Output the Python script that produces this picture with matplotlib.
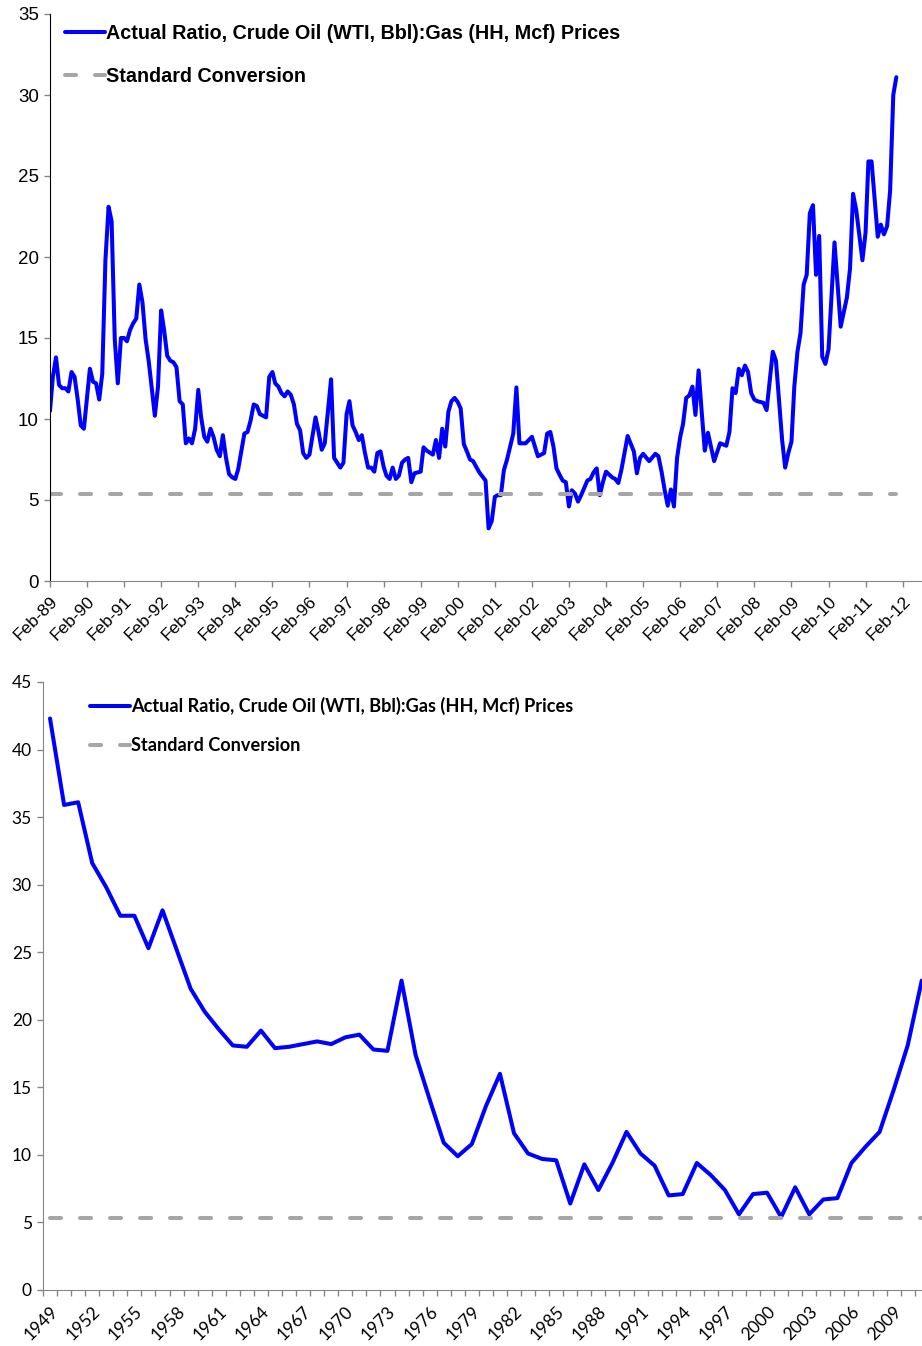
import matplotlib
matplotlib.use('Agg')
import matplotlib.pyplot as plt
import matplotlib.dates as mdates
import numpy as np
import pandas as pd

# ---- top chart: monthly ratio, months counted from Feb-1989 ----
top_months = [0, 1, 2, 3, 4, 5, 6, 7, 8, 9, 10, 11, 13, 14, 15, 16, 17, 18, 19, 20,
              21, 22, 23, 24, 25, 26, 27, 28, 29, 30, 31, 32, 34, 35, 36, 37, 38, 39, 40, 41,
              42, 43, 44, 45, 46, 47, 48, 49, 50, 51, 52, 53, 54, 55, 56, 57, 58, 59, 60, 61,
              63, 64, 65, 66, 67, 68, 69, 70, 71, 72, 73, 74, 75, 76, 77, 78, 79, 80, 81, 82,
              83, 84, 86, 87, 88, 89, 91, 92, 94, 95, 96, 97, 98, 99, 100, 101, 102, 103, 104, 105,
              106, 107, 108, 109, 110, 111, 112, 113, 114, 115, 116, 117, 118, 120, 121, 122, 124, 125, 126, 127,
              128, 129, 130, 131, 132, 133, 134, 135, 136, 137, 138, 139, 141, 142, 143, 144, 145, 146, 147, 148,
              150, 151, 152, 154, 156, 158, 159, 160, 161, 162, 163, 164, 165, 166, 167, 168, 169, 170, 171, 172,
              174, 175, 176, 177, 178, 179, 180, 182, 183, 184, 185, 187, 189, 190, 191, 192, 194, 196, 197, 198,
              199, 200, 201, 202, 203, 204, 205, 206, 207, 208, 209, 210, 211, 212, 213, 215, 217, 219, 220, 221,
              222, 223, 224, 225, 226, 227, 228, 229, 231, 232, 234, 235, 237, 238, 239, 240, 241, 242, 243, 244,
              245, 246, 247, 248, 249, 250, 251, 252, 254, 256, 258, 259, 260, 261, 263, 264, 265, 266, 268, 269,
              270, 271, 272, 273, 274]
top_ratio = [10.5, 12.6, 13.8, 12.1, 11.9, 11.9, 11.7, 12.9, 12.6, 11.2, 9.6, 9.4, 13.1, 12.3, 12.2, 11.2, 12.8, 19.8, 23.1, 22.2,
             14.9, 12.2, 15.0, 15.0, 14.8, 15.5, 15.9, 16.2, 18.3, 17.2, 14.9, 13.6, 10.2, 12.0, 16.7, 15.5, 13.9, 13.6, 13.5, 13.2,
             11.1, 10.9, 8.5, 8.8, 8.5, 9.4, 11.8, 10.1, 8.9, 8.6, 9.4, 8.9, 8.1, 7.7, 9.0, 7.6, 6.6, 6.4, 6.3, 6.9,
             9.1, 9.2, 9.9, 10.9, 10.8, 10.3, 10.2, 10.1, 12.6, 12.9, 12.2, 12.0, 11.6, 11.4, 11.7, 11.5, 10.9, 9.7, 9.3, 7.9,
             7.6, 7.8, 10.1, 9.2, 8.1, 8.5, 12.45, 7.6, 7.0, 7.3, 10.3, 11.1, 9.6, 9.2, 8.7, 9.0, 7.9, 7.0, 7.0, 6.75,
             7.9, 8.0, 7.05, 6.5, 6.3, 7.0, 6.3, 6.5, 7.3, 7.5, 7.6, 6.1, 6.65, 6.75, 8.25, 8.05, 7.8, 8.7, 7.6, 9.4,
             8.3, 10.45, 11.1, 11.3, 11.05, 10.65, 8.45, 8.0, 7.5, 7.4, 7.05, 6.7, 6.2, 3.25, 3.7, 5.2, 5.3, 5.3, 6.85, 7.5,
             9.1, 11.95, 8.5, 8.5, 8.9, 7.7, 7.8, 7.9, 9.1, 9.2, 8.3, 6.95, 6.55, 6.2, 6.1, 4.6, 5.6, 5.4, 4.9, 5.3,
             6.2, 6.3, 6.7, 6.95, 5.3, 6.1, 6.75, 6.4, 6.3, 6.05, 6.85, 8.95, 8.0, 6.65, 7.6, 7.85, 7.4, 7.85, 7.7, 6.75,
             5.6, 4.65, 5.65, 4.6, 7.6, 8.9, 9.7, 11.3, 11.45, 12.0, 10.25, 13.0, 10.4, 8.05, 9.15, 7.4, 8.5, 8.35, 9.2, 11.9,
             11.6, 13.1, 12.7, 13.3, 12.9, 11.6, 11.2, 11.1, 11.0, 10.55, 14.15, 13.6, 8.7, 7.0, 7.9, 8.6, 12.0, 14.15, 15.3, 18.3,
             18.9, 22.7, 23.2, 18.9, 21.3, 13.85, 13.4, 14.3, 20.9, 15.7, 17.5, 19.3, 23.9, 22.9, 19.8, 21.5, 25.9, 25.9, 21.25, 22.0,
             21.4, 21.9, 24.1, 30.0, 31.1]

# ---- bottom chart: annual ratio ----
years = list(range(1949, 2012))
annual_ratio = [42.3, 35.9, 36.1, 31.6, 29.8, 27.7, 27.7, 25.3, 28.1, 25.2,
                22.3, 20.6, 19.3, 18.1, 18.0, 19.2, 17.9, 18.0, 18.2, 18.4,
                18.2, 18.7, 18.9, 17.8, 17.7, 22.9, 17.4, 14.1, 10.9, 9.9,
                10.8, 13.6, 16.0, 11.6, 10.1, 9.7, 9.6, 6.4, 9.3, 7.4,
                9.4, 11.7, 10.1, 9.2, 7.0, 7.1, 9.4, 8.5, 7.4, 5.6,
                7.1, 7.2, 5.4, 7.6, 5.6, 6.7, 6.8, 9.4, 10.6, 11.7,
                14.8, 18.1, 22.9]

std_conversion = 5.36

label_actual = 'Actual Ratio, Crude Oil (WTI, Bbl):Gas (HH, Mcf) Prices'
label_std = 'Standard Conversion'

BLUE = '#0000FF'
DASH_GREY = '#A6A6A6'
AXIS_GREY = '#868686'

plt.rcParams['lines.scale_dashes'] = False
W, H = 922, 1346
fig = plt.figure(figsize=(W / 100, H / 100), dpi=100)

# ================= top chart =================
month_index = pd.date_range('1989-02-01', periods=275, freq='MS')
top_dates = month_index[top_months]

ax1 = fig.add_axes([50 / W, 1 - 581 / H, (W - 50) / W, (581 - 14) / H])
ax1.plot(top_dates, top_ratio, color=BLUE, lw=2.9, solid_joinstyle='round',
         solid_capstyle='round', label=label_actual)
ax1.plot(top_dates, np.full(len(top_dates), std_conversion), color=DASH_GREY, lw=2.9,
         dashes=(8, 13.6), dash_capstyle='round', label=label_std)

ax1.set_xlim(pd.Timestamp('1989-02-01'), pd.Timestamp('2012-08-10'))
ax1.set_ylim(0, 35)
ax1.set_yticks(np.arange(0, 36, 5))
ax1.xaxis.set_major_locator(mdates.MonthLocator(bymonth=2))
ax1.xaxis.set_major_formatter(mdates.DateFormatter('%b-%y'))

for s in ['top', 'right']:
    ax1.spines[s].set_visible(False)
ax1.spines['left'].set_color('black')
ax1.spines['bottom'].set_color(AXIS_GREY)
ax1.tick_params(axis='both', colors=AXIS_GREY, length=4, width=1, labelcolor='black')
ax1.tick_params(axis='y', pad=4)
ax1.tick_params(axis='x', pad=5)
for t in ax1.get_yticklabels():
    t.set_fontfamily('Liberation Sans')
    t.set_fontsize(13.5)
for t in ax1.get_xticklabels():
    t.set_fontfamily('Liberation Sans')
    t.set_fontsize(12.5)
    t.set_rotation(45)
    t.set_ha('right')
    t.set_va('top')
    t.set_rotation_mode('anchor')

ax1.legend(loc='upper left', bbox_to_anchor=(65 / W, 1 - 24 / H), bbox_transform=fig.transFigure,
           frameon=False, borderpad=0, borderaxespad=0, handlelength=2.03, handletextpad=0.05,
           labelspacing=1.2, prop={'family': 'Liberation Sans', 'weight': 'bold', 'size': 14.2})

# ================= bottom chart =================
ax2 = fig.add_axes([43 / W, 1 - 1290 / H, 63 * 14.06 / W, (1290 - 682) / H])
xs = np.arange(len(years))
ax2.plot(xs, annual_ratio, color=BLUE, lw=2.9, solid_joinstyle='round',
         solid_capstyle='round', label=label_actual)
ax2.plot(xs, np.full(len(years), std_conversion), color=DASH_GREY, lw=2.9,
         dashes=(8, 13.6), dash_capstyle='round', label=label_std)

ax2.set_xlim(-0.5, len(years) - 0.5)
ax2.set_ylim(0, 45)
ax2.set_yticks(np.arange(0, 46, 5))
ax2.set_xticks(xs[::3])
ax2.set_xticklabels([str(y) for y in years[::3]])
ax2.set_xticks(np.arange(-0.5, len(years), 1), minor=True)

for s in ['top', 'right']:
    ax2.spines[s].set_visible(False)
for s in ['left', 'bottom']:
    ax2.spines[s].set_color(AXIS_GREY)
ax2.tick_params(axis='y', colors=AXIS_GREY, length=4, width=1, labelcolor='black', pad=4)
ax2.tick_params(axis='x', which='major', length=0, pad=9.5, labelcolor='black')
ax2.tick_params(axis='x', which='minor', colors=AXIS_GREY, length=4, width=1)
for t in ax2.get_yticklabels():
    t.set_fontfamily('Lato')
    t.set_fontsize(12.5)
for t in ax2.get_xticklabels():
    t.set_fontfamily('Lato')
    t.set_fontsize(12.5)
    t.set_rotation(45)
    t.set_ha('right')
    t.set_va('top')
    t.set_rotation_mode('anchor')

ax2.legend(loc='upper left', bbox_to_anchor=(90 / W, 1 - 697 / H), bbox_transform=fig.transFigure,
           frameon=False, borderpad=0, borderaxespad=0, handlelength=2.2, handletextpad=0.05,
           labelspacing=1.21, prop={'family': 'Lato', 'weight': 'bold', 'size': 13.1})

fig.savefig('out.png', dpi=100, facecolor='white')
